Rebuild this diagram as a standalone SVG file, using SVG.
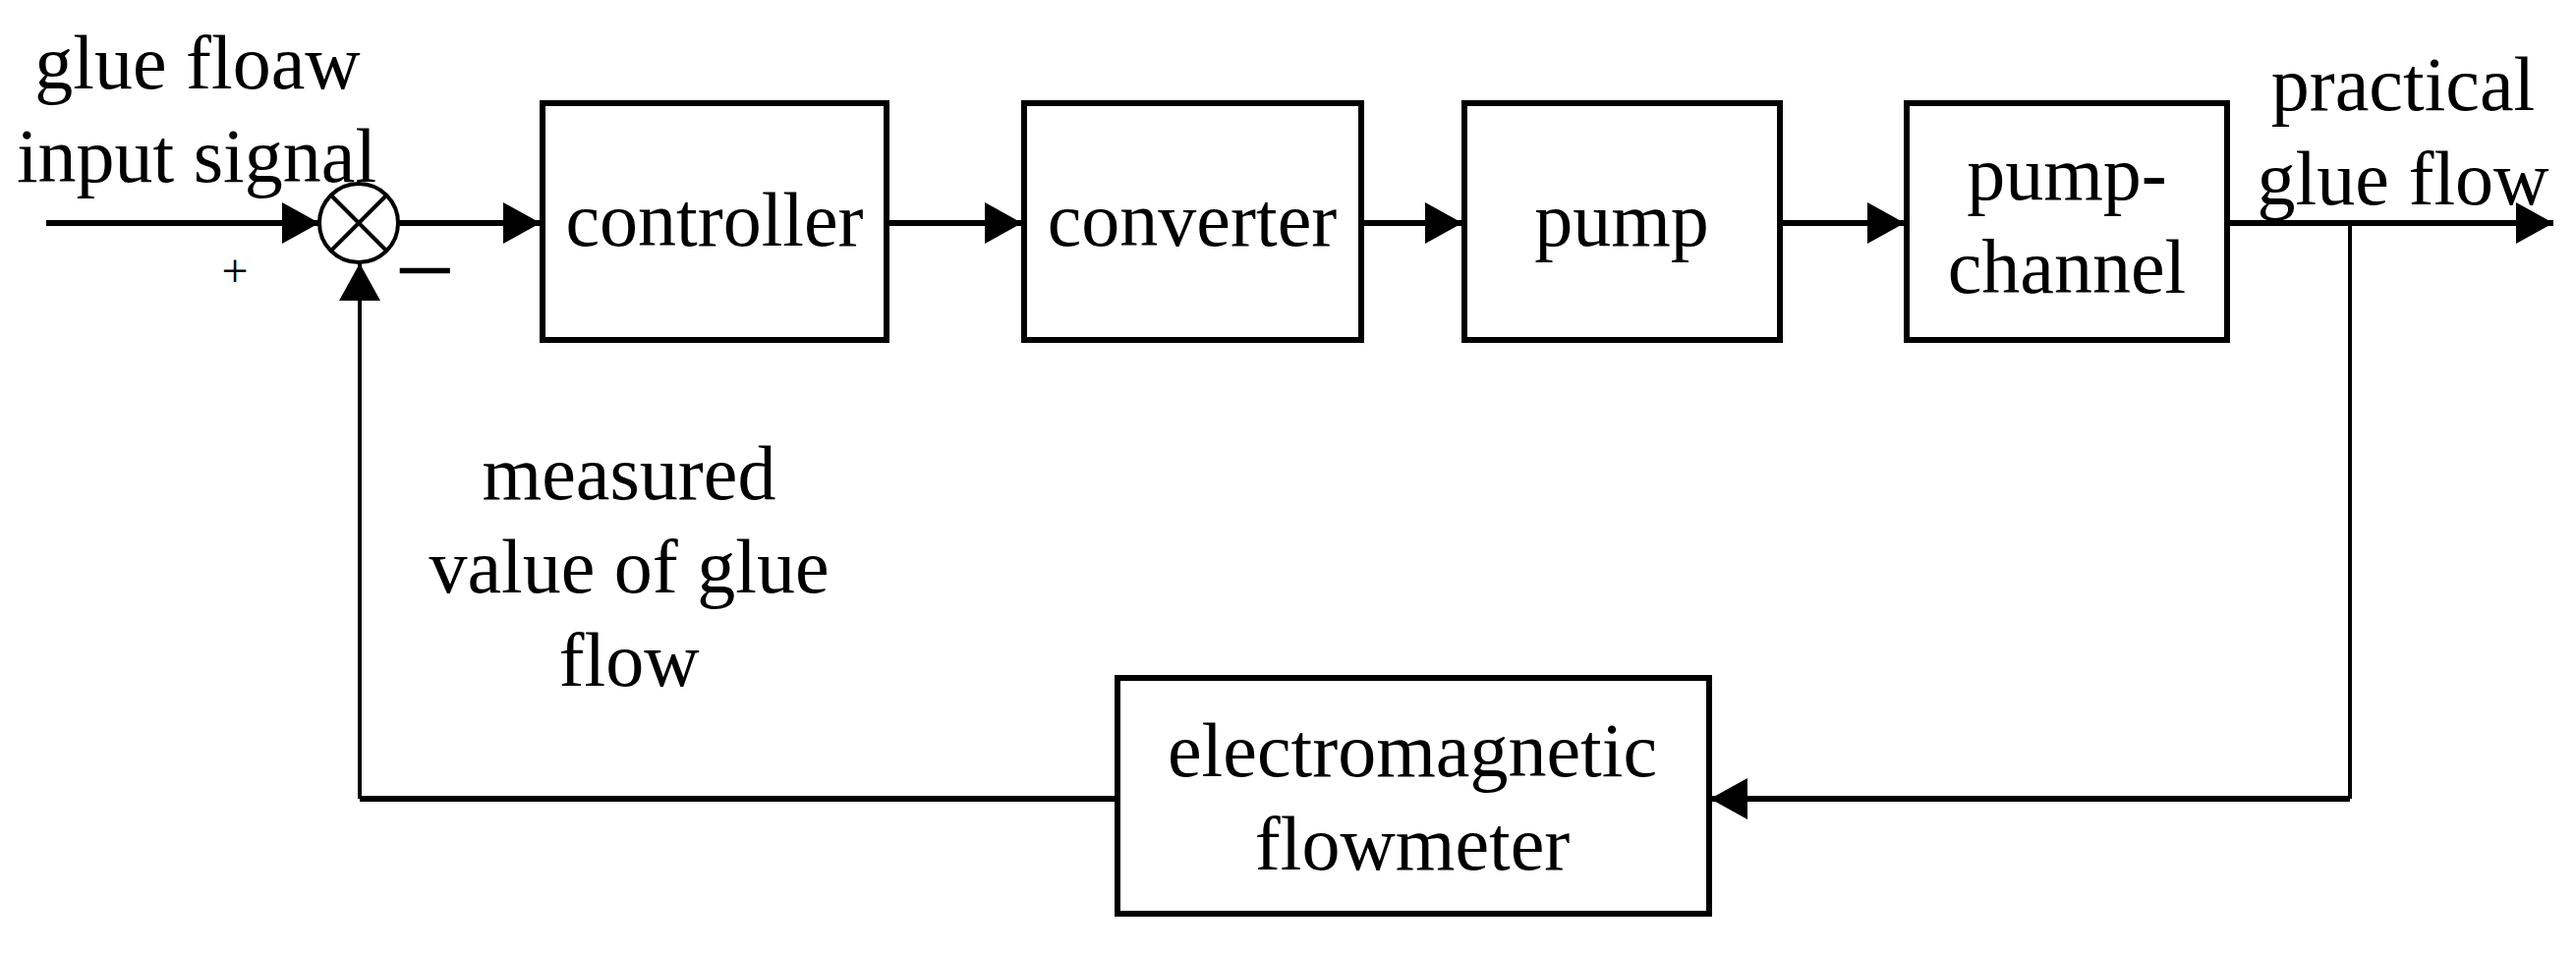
<svg xmlns="http://www.w3.org/2000/svg" width="2621" height="971" viewBox="0 0 2621 971">
<style>
text{font-family:"Liberation Serif","Times New Roman",serif;font-size:78px;fill:#000;text-anchor:middle}
.box{fill:#fff;stroke:#000;stroke-width:6}
.ln{fill:none;stroke:#000;stroke-width:6}
.thin{fill:none;stroke:#000;stroke-width:4}
</style>
<defs>
<marker id="ah" markerUnits="userSpaceOnUse" markerWidth="40" markerHeight="42" refX="38" refY="21" orient="auto">
<path d="M0,0 L38,21 L0,42 Z" fill="#000"/>
</marker>
</defs>
<g id="connectors">
<line class="ln" x1="47" y1="227" x2="325" y2="227" marker-end="url(#ah)"/>
<line class="ln" x1="405" y1="227" x2="550" y2="227" marker-end="url(#ah)"/>
<line class="ln" x1="902" y1="227" x2="1040" y2="227" marker-end="url(#ah)"/>
<line class="ln" x1="1385" y1="227" x2="1488" y2="227" marker-end="url(#ah)"/>
<line class="ln" x1="1811" y1="227" x2="1938" y2="227" marker-end="url(#ah)"/>
<line class="ln" x1="2266" y1="227" x2="2598" y2="227" marker-end="url(#ah)"/>
<polyline class="thin" points="2391,227 2391,813"/>
<line class="ln" x1="2391" y1="813" x2="1740" y2="813" marker-end="url(#ah)"/>
<polyline class="ln" points="1137,813 366,813"/>
<line class="thin" x1="366" y1="813" x2="366" y2="268" marker-end="url(#ah)"/>
</g>
<g id="sum">
<circle cx="365" cy="227" r="40" fill="#fff" stroke="#000" stroke-width="4"/>
<line class="thin" x1="337" y1="199" x2="393" y2="255"/>
<line class="thin" x1="393" y1="199" x2="337" y2="255"/>
<text x="239" y="292" style="font-size:48px">+</text>
<text x="432" y="312" style="font-size:110px">−</text>
</g>
<g id="input-label"><text x="201" y="90">glue floaw</text><text x="200" y="185">input signal</text></g>
<g id="controller"><rect class="box" x="552" y="105" width="350" height="241"/><text x="727" y="250">controller</text></g>
<g id="converter"><rect class="box" x="1042" y="105" width="343" height="241"/><text x="1213" y="250">converter</text></g>
<g id="pump"><rect class="box" x="1490" y="105" width="321" height="241"/><text x="1650" y="250">pump</text></g>
<g id="pump-channel"><rect class="box" x="1940" y="105" width="326" height="241"/><text x="2103" y="203">pump-</text><text x="2103" y="298">channel</text></g>
<g id="output-label"><text x="2445" y="112">practical</text><text x="2445" y="208">glue flow</text></g>
<g id="feedback-label"><text x="640" y="508">measured</text><text x="640" y="603">value of glue</text><text x="640" y="698">flow</text></g>
<g id="flowmeter"><rect class="box" x="1137" y="690" width="602" height="240"/><text x="1437" y="790">electromagnetic</text><text x="1437" y="885">flowmeter</text></g>
</svg>
